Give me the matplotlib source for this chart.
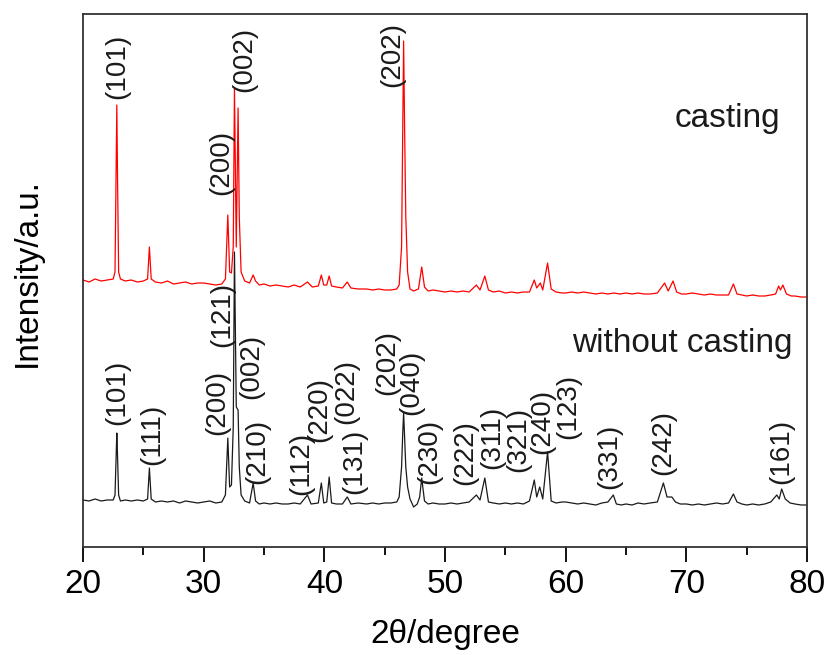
import matplotlib
matplotlib.use("Agg")
import matplotlib.pyplot as plt
from matplotlib.ticker import MultipleLocator

plt.rcParams['font.family'] = ['Liberation Sans', 'DejaVu Sans']

# XRD pattern of the cast sample (red), offset upward
red_2theta = [20.0, 20.5, 21.0, 21.5, 22.0, 22.5, 22.65, 22.75, 22.8, 22.85, 22.95, 23.1, 23.5, 24.0,
              24.5, 25.0, 25.35, 25.5, 25.65, 26.0, 26.5, 27.0, 27.5, 28.0, 28.5, 29.0, 29.5, 30.0,
              30.5, 31.0, 31.5, 31.8, 32.0, 32.15, 32.3, 32.45, 32.55, 32.7, 32.85, 32.95, 33.1, 33.4,
              33.8, 34.1, 34.3, 34.6, 35.0, 35.5, 36.0, 36.5, 37.0, 37.5, 38.0, 38.6, 39.0, 39.5,
              39.75, 39.95, 40.2, 40.4, 40.6, 41.0, 41.5, 41.9, 42.2, 42.8, 43.5, 44.0, 44.5, 45.0,
              45.5, 46.0, 46.2, 46.4, 46.5, 46.57, 46.65, 46.75, 46.9, 47.1, 47.4, 47.8, 48.07, 48.3,
              48.6, 49.0, 49.5, 50.0, 50.5, 51.0, 51.5, 52.0, 52.6, 52.9, 53.3, 53.6, 54.0, 54.5,
              55.0, 55.5, 56.0, 56.5, 57.0, 57.4, 57.6, 57.9, 58.1, 58.5, 58.8, 59.2, 59.7, 60.0,
              60.5, 61.0, 61.5, 62.0, 62.5, 63.0, 63.5, 64.0, 64.5, 65.0, 65.5, 66.0, 66.5, 67.0,
              67.6, 68.2, 68.5, 68.9, 69.2, 69.6, 70.0, 70.5, 71.0, 71.5, 72.0, 72.5, 73.0, 73.5,
              73.9, 74.2, 74.6, 75.0, 75.5, 76.0, 76.5, 77.0, 77.4, 77.65, 77.8, 78.0, 78.3, 78.7,
              79.0, 79.5, 80.0]
red_int = [267, 265, 268, 266, 267, 268, 275, 380, 442, 380, 275, 268, 266, 267,
           265, 266, 268, 300, 268, 265, 264, 266, 263, 264, 265, 263, 264, 264,
           263, 262, 263, 268, 332, 275, 274, 300, 459, 300, 439, 330, 275, 266,
           264, 272, 266, 262, 263, 261, 262, 261, 260, 262, 260, 265, 260, 261,
           272, 262, 262, 271, 261, 260, 259, 265, 259, 258, 258, 257, 258, 257,
           257, 258, 262, 300, 420, 506, 420, 330, 275, 258, 256, 258, 280, 260,
           256, 257, 256, 255, 256, 255, 256, 255, 262, 257, 271, 257, 255, 256,
           254, 255, 254, 255, 255, 267, 259, 264, 257, 284, 258, 255, 254, 254,
           255, 254, 255, 254, 253, 254, 253, 254, 253, 254, 253, 254, 253, 253,
           254, 264, 256, 266, 255, 253, 253, 254, 253, 252, 253, 252, 252, 252,
           263, 253, 252, 251, 252, 251, 251, 252, 253, 261, 257, 262, 253, 251,
           251, 250, 250]

# XRD pattern of the sample without casting (black)
black_2theta = [20.0, 20.5, 21.0, 21.5, 22.0, 22.5, 22.65, 22.75, 22.8, 22.85, 22.95, 23.1, 23.5, 24.0,
                24.5, 25.0, 25.35, 25.5, 25.65, 26.0, 26.5, 27.0, 27.5, 28.0, 28.5, 29.0, 29.5, 30.0,
                30.5, 31.0, 31.5, 31.8, 32.0, 32.15, 32.3, 32.45, 32.55, 32.7, 32.85, 32.95, 33.1, 33.4,
                33.8, 34.1, 34.3, 34.6, 35.0, 35.5, 36.0, 36.5, 37.0, 37.5, 38.0, 38.6, 38.9, 39.5,
                39.75, 39.95, 40.2, 40.4, 40.6, 41.0, 41.5, 41.9, 42.2, 42.8, 43.5, 44.0, 44.5, 45.0,
                45.5, 46.0, 46.2, 46.4, 46.5, 46.57, 46.65, 46.75, 46.9, 47.1, 47.4, 47.7, 47.9, 48.07,
                48.3, 48.6, 49.0, 49.5, 50.0, 50.5, 51.0, 51.5, 52.0, 52.6, 52.9, 53.3, 53.6, 54.0,
                54.5, 55.0, 55.5, 56.0, 56.5, 57.0, 57.4, 57.6, 57.85, 58.1, 58.5, 58.65, 58.8, 59.2,
                59.7, 60.0, 60.5, 61.0, 61.5, 62.0, 62.5, 63.0, 63.5, 63.95, 64.2, 64.6, 65.0, 65.5,
                66.0, 66.5, 67.0, 67.6, 68.1, 68.4, 68.8, 69.1, 69.5, 70.0, 70.5, 71.0, 71.5, 72.0,
                72.5, 73.0, 73.5, 73.9, 74.2, 74.6, 75.0, 75.5, 76.0, 76.5, 77.0, 77.5, 77.7, 77.9,
                78.2, 78.6, 79.0, 79.5, 80.0]
black_int = [47, 46, 48, 46, 47, 47, 52, 95, 114, 95, 52, 46, 47, 46,
             47, 46, 48, 79, 48, 45, 46, 45, 46, 44, 46, 45, 44, 45,
             46, 44, 45, 52, 109, 60, 62, 120, 295, 140, 137, 80, 52, 46,
             44, 64, 46, 43, 44, 43, 44, 43, 43, 44, 43, 52, 43, 44,
             64, 44, 45, 70, 44, 43, 43, 50, 43, 44, 43, 44, 43, 44,
             44, 45, 50, 80, 115, 134, 110, 80, 60, 48, 40, 43, 50, 69,
             46, 43, 44, 43, 43, 44, 43, 44, 45, 52, 47, 69, 45, 44,
             43, 44, 43, 44, 43, 46, 67, 50, 60, 48, 95, 70, 46, 44,
             45, 45, 44, 43, 44, 43, 42, 44, 45, 52, 43, 42, 43, 42,
             44, 43, 44, 45, 64, 50, 50, 45, 43, 43, 42, 43, 42, 43,
             44, 43, 44, 53, 45, 43, 42, 43, 42, 43, 45, 52, 48, 58,
             48, 44, 43, 42, 42]

# peak index labels: text, 2theta position, intensity at the foot of the label
red_hkl = ['(101)', '(200)', '(002)', '(202)']
red_hkl_x = [22.83, 31.47, 33.38, 45.6]
red_hkl_y = [448, 352, 455, 460]

black_hkl = ['(101)', '(111)', '(200)', '(121)', '(002)', '(210)', '(112)', '(220)', '(022)',
             '(131)', '(202)', '(040)', '(230)', '(222)', '(311)', '(321)', '(240)', '(123)',
             '(331)', '(242)', '(161)']
black_hkl_x = [22.83, 25.7, 31.1, 31.55, 33.97, 34.4, 38.1, 39.6, 41.8,
               42.5, 45.2, 47.2, 48.7, 51.7, 53.9, 56.1, 58.1, 60.2,
               63.6, 68.05, 77.85]
black_hkl_y = [122, 82, 112, 200, 148, 63, 52, 105, 123,
               53, 152, 132, 63, 62, 78, 75, 93, 108,
               58, 72, 63]

fig = plt.figure(figsize=(8.27, 6.55), dpi=100)
ax = fig.add_axes([0.1004, 0.1649, 0.8754, 0.8137])

ax.plot(black_2theta, black_int, color='#1a1a1a', lw=0.9)
ax.plot(red_2theta, red_int, color='#ff0000', lw=0.9)

for t, x, y in zip(red_hkl, red_hkl_x, red_hkl_y):
    ax.text(x, y, t, rotation=90, ha='center', va='bottom', fontsize=20, color='#1a1a1a')
for t, x, y in zip(black_hkl, black_hkl_x, black_hkl_y):
    ax.text(x, y, t, rotation=90, ha='center', va='bottom', fontsize=20, color='#1a1a1a')

ax.text(77.77, 420, 'casting', ha='right', va='baseline', fontsize=24, color='#1a1a1a')
ax.text(78.77, 195, 'without casting', ha='right', va='baseline', fontsize=24, color='#1a1a1a')

ax.set_xlim(20, 80)
ax.set_ylim(0, 533)
ax.xaxis.set_major_locator(MultipleLocator(10))
ax.xaxis.set_minor_locator(MultipleLocator(5))
ax.tick_params(axis='x', which='major', direction='out', length=11, width=1.3, labelsize=24, pad=5)
ax.tick_params(axis='x', which='minor', direction='out', length=6, width=1.3)
ax.set_yticks([])
for s in ax.spines.values():
    s.set_linewidth(1.3)
    s.set_color('#333333')

ax.set_xlabel('2θ/degree', fontsize=24)
ax.xaxis.set_label_coords(0.5, -0.135)
ax.set_ylabel('Intensity/a.u.', fontsize=24)
ax.yaxis.set_label_coords(-0.055, 0.514)

fig.savefig('out.png', dpi=100)
